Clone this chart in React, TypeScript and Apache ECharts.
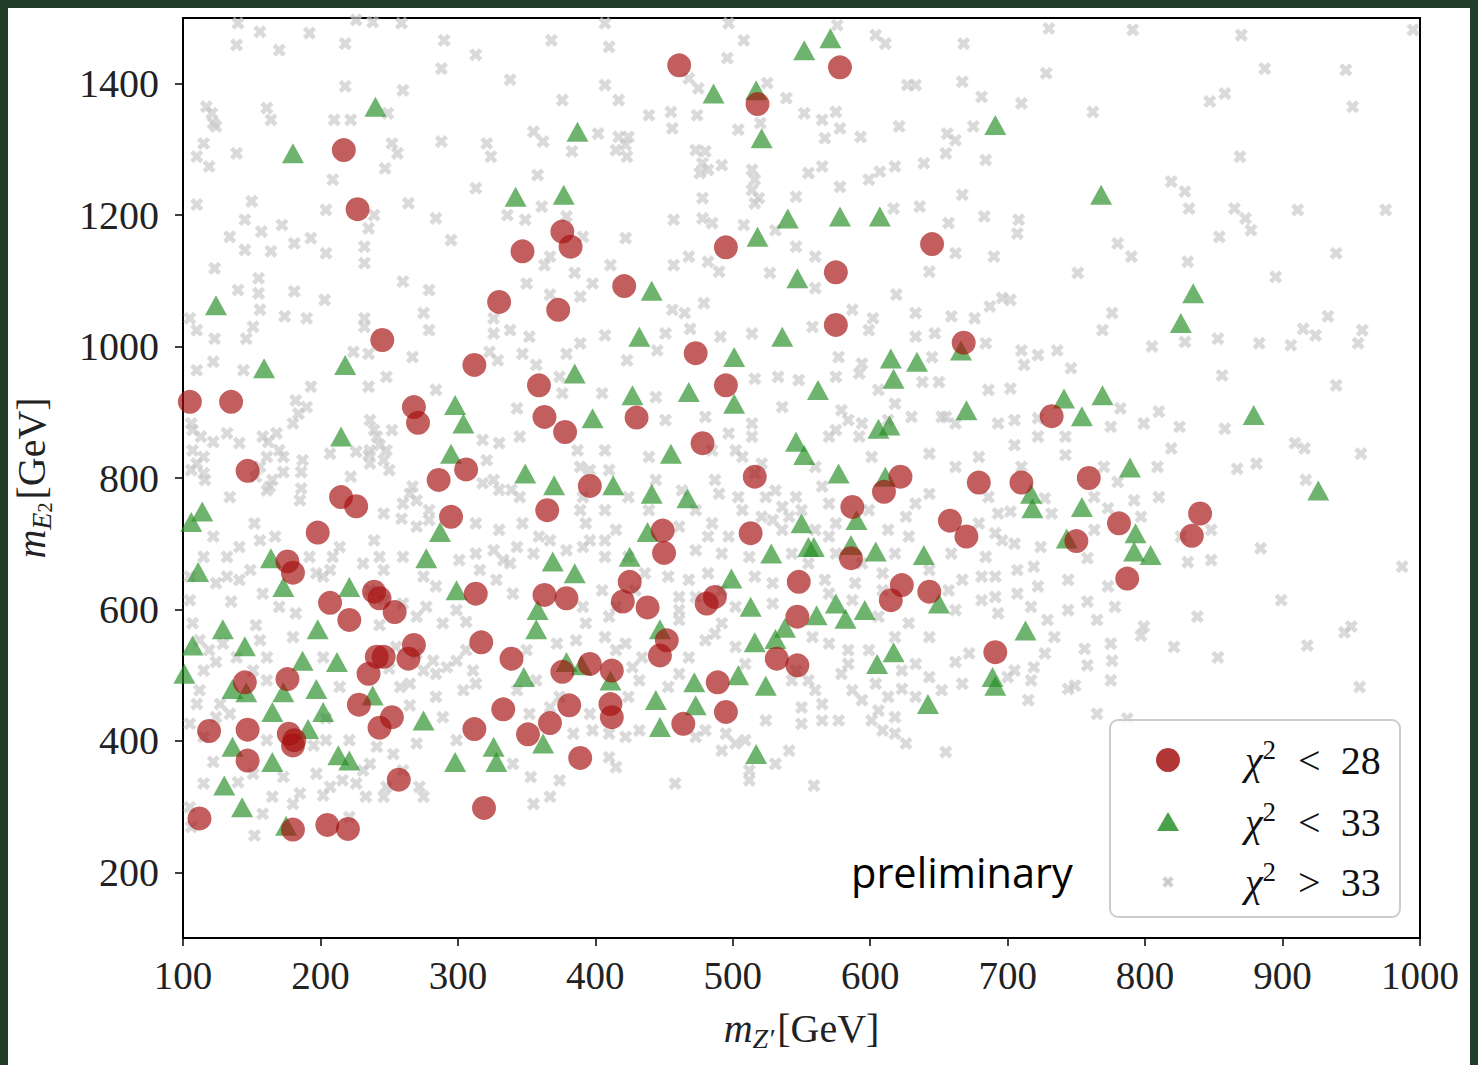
import React, { useEffect, useRef } from "react";
import * as echarts from "echarts";

const xTicks = [100, 200, 300, 400, 500, 600, 700, 800, 900, 1000];
const yTicks = [200, 400, 600, 800, 1000, 1200, 1400];
const legendThresholds = ["28", "33", "33"];
const legendOps = ["<", "<", ">"];

// chi^2 < 28 (red circles)
const redPoints: number[][] = [
  [217, 1299], [227, 1209], [376, 1175], [382, 1152], [347, 1145], [330, 1068], [373, 1056],
  [461, 1428], [578, 1425], [518, 1369], [495, 1151], [645, 1156], [575, 1113], [421, 1092], [575, 1033],
  [245, 1010], [312, 972], [359, 941], [363, 893], [378, 870], [105, 916], [135, 916], [268, 908],
  [271, 884], [147, 811], [306, 813], [286, 797], [215, 771], [226, 757], [365, 751], [295, 741],
  [198, 717], [176, 673], [180, 656], [207, 610], [239, 627], [243, 617], [254, 596], [221, 584],
  [313, 624], [363, 622], [379, 617], [396, 788],
  [473, 990], [668, 1006], [495, 941], [430, 892], [478, 853], [516, 802], [622, 802], [610, 779],
  [679, 793], [587, 756], [449, 720], [450, 686], [513, 716], [658, 735], [670, 711], [586, 678],
  [425, 642], [420, 612], [438, 603], [548, 642], [487, 619], [481, 609], [623, 637], [615, 614],
  [643, 627], [547, 589],
  [732, 894], [759, 800], [710, 793], [840, 746], [834, 712], [781, 731], [750, 704], [787, 647],
  [145, 489], [176, 494], [241, 528], [246, 528], [268, 546], [264, 525], [235, 502], [317, 550],
  [339, 525], [376, 505], [396, 517], [228, 455], [252, 436], [243, 420], [333, 448], [381, 454],
  [367, 427], [351, 410], [119, 415], [147, 417], [147, 370], [177, 411], [181, 401], [180, 393],
  [312, 418], [389, 374], [257, 341], [319, 298], [112, 282], [180, 265], [205, 272], [220, 266],
  [447, 530], [452, 553], [412, 507], [411, 456], [412, 436], [489, 489], [532, 525], [547, 515],
  [464, 426], [495, 444], [691, 535],
];

// chi^2 < 33 (green triangles)
const greenPoints: number[][] = [
  [240, 1365], [180, 1294], [124, 1063], [387, 1327], [342, 1228], [377, 1231],
  [552, 1451], [571, 1469], [486, 1385], [517, 1390], [521, 1317], [691, 1337], [540, 1195],
  [578, 1198], [607, 1198], [518, 1167], [547, 1104], [441, 1085],
  [768, 1231], [835, 1081], [826, 1036],
  [159, 967], [218, 972], [298, 911], [304, 883], [215, 863], [295, 837], [349, 807], [370, 789],
  [385, 959], [398, 891], [114, 749], [106, 733], [287, 718], [277, 678], [164, 678], [111, 657],
  [173, 634], [221, 634], [299, 629], [369, 673], [385, 655], [358, 599], [129, 570], [198, 570],
  [357, 570],
  [432, 1015], [536, 1015], [501, 984], [615, 982], [634, 977], [617, 951], [666, 994], [427, 926],
  [468, 931], [501, 913], [562, 934], [670, 903], [606, 875], [614, 880], [546, 855], [552, 835],
  [455, 837], [577, 807], [413, 789], [441, 776], [467, 769], [611, 802], [550, 731], [590, 736],
  [438, 718], [555, 695], [559, 695], [528, 685], [425, 680], [604, 688], [639, 683], [586, 698],
  [499, 647], [513, 604], [575, 609], [582, 586], [596, 599], [561, 591], [650, 609], [447, 570],
  [538, 572],
  [741, 921], [769, 926], [754, 894], [879, 896], [789, 816], [926, 781], [717, 776], [718, 754],
  [754, 756], [743, 708], [793, 716], [792, 688], [804, 683], [713, 568],
  [107, 545], [145, 544], [101, 502], [187, 522], [212, 520], [197, 479], [136, 479], [146, 474],
  [173, 474], [165, 444], [202, 444], [238, 469], [275, 431], [191, 418], [348, 497], [379, 520],
  [390, 515], [136, 391], [165, 368], [213, 378], [221, 370], [298, 368], [326, 391], [328, 368],
  [362, 396], [130, 332], [143, 299], [175, 271],
  [516, 550], [531, 555], [472, 489], [504, 500], [524, 484], [444, 462], [473, 454], [447, 421],
  [517, 380], [605, 517], [617, 535], [642, 456], [689, 497], [691, 484], [411, 492],
];

// chi^2 > 33 (grey crosses)
const greyPoints: number[][] = [
  [140, 1492], [156, 1479], [139, 1459], [192, 1477], [170, 1451], [218, 1461], [226, 1497], [238, 1494],
  [259, 1492], [290, 1466], [313, 1444], [288, 1423], [368, 1466], [338, 1406], [376, 1375], [218, 1396],
  [260, 1390], [121, 1355], [122, 1340], [161, 1363], [164, 1345], [210, 1345], [222, 1345], [249, 1355],
  [115, 1309], [139, 1294], [119, 1274], [209, 1254], [247, 1271], [252, 1309], [256, 1294], [288, 1312],
  [321, 1309], [324, 1289], [355, 1327], [362, 1312], [383, 1297], [358, 1261], [313, 1241], [110, 1216],
  [150, 1221], [145, 1193], [157, 1175], [172, 1185], [204, 1208], [239, 1200], [235, 1180], [264, 1218],
  [284, 1195], [295, 1162], [134, 1167], [145, 1147], [164, 1145], [181, 1157], [193, 1165], [204, 1142],
  [232, 1152], [232, 1127], [361, 1213], [349, 1193], [336, 1200], [367, 1137], [363, 1124], [385, 1112],
  [389, 1076], [123, 1119], [155, 1104], [140, 1086], [155, 1081], [181, 1084], [203, 1071], [260, 1099],
  [279, 1086], [275, 1051], [350, 1096], [367, 1079], [156, 1056], [174, 1046], [190, 1043], [232, 1043],
  [326, 1043], [105, 1043],
  [407, 1492], [410, 1456], [497, 1492], [508, 1466], [496, 1439], [576, 1489], [604, 1474], [611, 1461],
  [668, 1461], [407, 1398], [417, 1375], [468, 1408], [475, 1393], [525, 1401], [539, 1378], [439, 1352],
  [455, 1357], [474, 1352], [456, 1332], [504, 1330], [520, 1340], [552, 1355], [565, 1345], [575, 1357],
  [578, 1332], [567, 1317], [593, 1319], [621, 1335], [627, 1398], [633, 1398], [667, 1403], [681, 1380],
  [402, 1324], [417, 1319], [422, 1307], [423, 1289], [480, 1297], [478, 1279], [492, 1276], [476, 1264],
  [514, 1269], [516, 1254], [519, 1226], [555, 1264], [565, 1274], [578, 1243], [546, 1228], [599, 1254],
  [607, 1266], [618, 1274], [639, 1279], [655, 1294], [656, 1324], [662, 1314], [675, 1335], [684, 1284],
  [667, 1231], [636, 1213], [657, 1188], [683, 1198], [617, 1210], [478, 1226], [457, 1193], [478, 1195],
  [485, 1188], [508, 1185], [531, 1177], [546, 1152], [560, 1137], [422, 1165], [411, 1124], [457, 1124],
  [468, 1137], [482, 1129], [490, 1114], [527, 1112], [560, 1089], [643, 1114], [662, 1142], [690, 1137],
  [619, 1079], [456, 1056], [465, 1051], [479, 1066], [587, 1056], [602, 1043], [633, 1051], [659, 1046],
  [676, 1043], [687, 1061], [696, 1074],
  [730, 1484], [791, 1482], [870, 1474], [995, 1482], [728, 1416], [710, 1370], [762, 1357], [887, 1423],
  [946, 1421], [847, 1373], [858, 1385], [951, 1365], [869, 1289], [819, 1251], [829, 1236], [832, 1210],
  [865, 1210], [873, 1195], [877, 1177], [854, 1167], [911, 1208], [975, 1208], [708, 1193], [707, 1172],
  [780, 1157], [790, 1137], [831, 1129], [751, 1112], [895, 1106], [939, 1142], [702, 1071], [776, 1051],
  [933, 1046],
  [110, 1025], [123, 1012], [146, 1012], [151, 1030], [232, 1030], [279, 1025], [326, 1020], [338, 1025],
  [352, 1015], [389, 1005], [110, 964], [122, 977], [144, 964], [224, 992], [235, 989], [267, 984],
  [323, 992], [329, 979], [347, 989], [357, 972], [379, 989], [374, 954], [182, 918], [184, 898],
  [193, 939], [235, 939], [248, 954], [284, 934], [343, 906], [376, 929], [107, 873], [122, 855],
  [132, 868], [141, 853], [162, 855], [170, 842], [161, 832], [187, 827], [186, 809], [110, 822],
  [115, 807], [207, 837], [226, 840], [235, 835], [239, 873], [243, 850], [246, 827], [252, 873],
  [318, 858], [330, 853], [321, 827], [345, 863], [387, 842], [389, 817], [153, 802], [165, 797],
  [161, 781], [134, 771], [186, 784], [185, 766], [222, 802], [246, 746], [267, 787], [265, 776],
  [318, 792], [330, 782], [339, 782], [389, 751], [152, 731], [122, 711], [141, 695], [156, 705],
  [167, 711], [132, 680], [259, 738], [270, 726], [279, 736], [313, 731], [330, 721], [347, 731],
  [359, 711], [239, 705], [243, 680], [214, 695], [209, 680], [207, 660], [192, 680], [197, 655],
  [260, 680], [231, 670], [246, 660], [301, 675], [313, 685], [316, 660], [333, 675], [343, 695],
  [355, 685], [367, 705], [391, 695], [393, 731], [105, 650], [132, 650], [141, 645], [135, 612],
  [105, 614], [158, 624], [275, 650], [284, 635], [277, 604], [328, 645], [340, 624], [260, 609],
  [170, 604], [182, 594], [391, 604], [393, 579], [306, 581], [289, 579], [243, 576], [153, 576],
  [107, 579],
  [407, 1017], [451, 1020], [469, 1027], [491, 1015], [514, 1020], [558, 1030], [599, 1025], [633, 1015],
  [647, 1020], [684, 1005], [423, 979], [445, 994], [577, 984], [594, 974], [645, 984], [405, 929],
  [444, 923], [516, 951], [533, 954], [548, 949], [575, 954], [592, 959], [638, 946], [650, 946],
  [686, 934], [451, 888], [480, 893], [497, 868], [514, 883], [514, 863], [536, 908], [570, 863],
  [584, 888], [592, 863], [630, 893], [655, 893], [693, 883], [407, 842], [439, 832], [485, 842],
  [502, 842], [521, 822], [560, 817], [601, 832], [643, 837], [662, 817], [679, 832], [410, 812],
  [424, 771], [407, 751], [487, 797], [490, 776], [504, 771], [524, 771], [536, 756], [546, 771],
  [565, 787], [570, 761], [599, 751], [626, 741], [633, 761], [643, 776], [686, 771], [693, 746],
  [461, 726], [485, 731], [482, 711], [497, 711], [529, 736], [536, 721], [570, 711], [575, 731],
  [613, 721], [628, 711], [679, 731], [691, 716], [407, 705], [407, 680], [473, 690], [492, 685],
  [512, 680], [543, 685], [575, 685], [618, 685], [659, 685], [684, 680], [436, 655], [453, 650],
  [468, 645], [482, 655], [516, 650], [529, 640], [567, 645], [589, 640], [609, 655], [667, 645],
  [691, 650], [405, 629], [461, 619], [502, 604], [529, 609], [570, 624], [587, 614], [606, 589],
  [662, 599], [681, 614], [693, 594], [410, 589], [461, 584], [492, 579], [628, 579],
  [769, 1025], [805, 1000], [829, 1007], [853, 1012], [883, 1005], [906, 1002], [915, 1027], [924, 1017],
  [958, 1025], [955, 1005], [710, 994], [722, 987], [736, 994], [712, 972], [746, 967], [856, 956],
  [939, 941], [702, 936], [705, 888], [722, 891], [782, 906], [810, 901], [775, 878], [799, 883],
  [825, 878], [858, 875], [722, 863], [742, 863], [705, 850], [742, 835], [819, 845], [909, 853],
  [916, 845], [957, 837], [710, 817], [770, 817], [809, 817], [867, 814], [881, 822], [780, 794],
  [727, 769], [763, 771], [792, 766], [810, 771], [917, 797], [702, 749], [732, 746], [773, 754],
  [797, 741], [848, 721], [705, 700], [724, 695], [763, 721], [758, 678], [826, 711], [831, 672],
  [848, 675], [884, 693], [987, 665], [707, 660], [719, 665], [744, 645], [722, 635], [707, 624],
  [758, 612], [773, 635], [778, 604], [744, 599], [717, 604], [729, 584], [765, 584], [838, 589],
  [899, 614], [950, 574], [799, 574],
  [112, 553], [129, 548], [156, 553], [180, 558], [161, 527], [124, 520], [115, 507], [112, 477],
  [127, 456], [151, 507], [161, 492], [202, 527], [214, 482], [250, 510], [265, 487], [282, 522],
  [275, 507], [292, 512], [306, 538], [311, 507], [304, 477], [284, 467], [289, 436], [265, 454],
  [350, 538], [372, 548], [386, 553], [374, 467], [343, 477], [352, 441], [105, 426], [124, 436],
  [161, 401], [195, 393], [204, 434], [241, 391], [253, 380], [236, 365], [270, 396], [299, 401],
  [340, 365], [384, 411], [396, 441], [122, 368], [115, 335], [140, 337], [151, 350], [197, 350],
  [207, 330], [216, 340], [226, 335], [233, 315], [248, 330], [272, 330], [275, 315], [185, 320],
  [180, 304], [158, 289], [105, 299], [106, 269], [152, 256], [202, 317], [221, 284], [353, 345],
  [374, 340], [355, 304], [367, 315],
  [407, 558], [422, 548], [427, 512], [432, 492], [424, 467], [432, 416], [422, 406], [410, 411],
  [410, 375], [415, 360], [458, 335], [480, 553], [487, 563], [468, 527], [502, 543], [509, 517],
  [461, 502], [453, 482], [480, 416], [495, 411], [502, 396], [509, 401], [524, 431], [531, 365],
  [512, 355], [512, 340], [541, 385], [559, 332], [546, 507], [555, 492], [565, 456], [550, 451],
  [565, 431], [577, 431], [558, 558], [570, 548], [584, 538], [579, 502], [587, 477], [594, 462],
  [601, 431], [609, 416], [618, 411], [626, 396], [613, 467], [623, 507], [633, 517], [618, 558],
  [643, 558], [662, 520], [672, 533], [667, 487], [652, 477], [655, 383], [623, 479], [604, 487],
  [734, 558], [727, 533], [719, 512], [717, 492], [705, 507], [756, 540], [758, 515], [775, 548],
  [776, 522], [775, 492], [797, 560], [821, 543], [853, 527], [744, 479], [749, 484], [715, 462],
  [765, 441], [787, 434], [918, 545], [945, 565], [956, 482], [700, 497],
  // crosses inside the dense clumps
  [106, 883], [113, 863], [107, 842], [115, 832], [106, 812], [116, 797], [158, 863], [168, 868],
  [173, 832], [156, 817], [173, 809], [163, 787], [236, 888], [241, 863], [236, 842], [248, 842],
  [236, 822], [250, 812], [270, 766], [279, 751], [260, 761], [326, 797], [345, 771], [396, 812],
  [391, 771], [396, 705], [180, 883], [190, 908], [326, 690], [338, 670], [379, 690], [115, 680],
  [149, 660], [124, 640], [202, 650], [236, 629], [246, 614], [270, 589], [299, 599],
  [507, 832], [516, 807], [531, 781], [507, 751], [521, 741], [541, 741], [579, 903], [575, 873],
  [594, 883], [606, 934], [618, 913], [613, 888], [652, 893], [662, 883], [444, 797], [463, 781],
  [473, 751], [439, 751], [550, 751], [560, 721], [555, 670], [594, 670], [609, 629], [643, 660],
  [657, 629], [696, 705], [681, 650], [691, 619], [415, 721], [424, 680], [429, 629], [415, 604],
  [473, 619], [461, 599], [492, 629],
  [255, 543], [270, 533], [284, 502], [299, 522], [313, 487], [258, 482], [119, 538], [139, 527],
  [110, 456], [134, 441], [115, 406], [204, 401], [221, 401], [231, 355], [357, 492], [367, 451],
  [398, 416], [173, 345], [165, 315], [260, 355], [246, 315],
  [543, 492], [560, 477], [550, 426], [584, 517], [599, 538], [606, 446], [633, 467], [643, 497],
  [618, 436], [415, 538], [434, 527], [473, 406], [492, 385],
  [117, 1365], [124, 1335], [110, 1289], [415, 1299], [424, 1319], [473, 1299], [482, 1269],
  [514, 1238], [516, 1218], [379, 1198], [391, 1167], [398, 1096],
];

const RED = "rgba(165,15,15,0.84)";
const GREEN = "rgba(34,140,34,0.82)";
const GREY = "rgba(200,200,200,0.85)";
const CROSS = "path://M3,0H6V3H9V6H6V9H3V6H0V3H3Z";
const SERIF = "'Liberation Serif', 'Times New Roman', serif";

export default function App() {
  const ref = useRef<HTMLDivElement>(null);
  useEffect(() => {
    if (!ref.current) return;
    const chart = echarts.init(ref.current, null, { renderer: "svg" });

    const legendY = [752, 814, 874];
    const legendTexts = legendY.map((y, i) => ({
      type: "text",
      z: 101,
      x: 1237,
      y,
      style: {
        text: `{c|χ}{s|2}{o|${legendOps[i]}}{n|${legendThresholds[i]}}`,
        fill: "#111",
        verticalAlign: "middle",
        align: "left",
        rich: {
          c: { fontFamily: SERIF, fontStyle: "italic", fontSize: 40, lineHeight: 48, fill: "#111" },
          s: { fontFamily: SERIF, fontSize: 27, lineHeight: 30, verticalAlign: "top", fill: "#111" },
          o: { fontFamily: SERIF, fontSize: 40, lineHeight: 48, padding: [0, 20, 0, 22], fill: "#111" },
          n: { fontFamily: SERIF, fontSize: 40, lineHeight: 48, fill: "#111" },
        },
      },
    }));

    chart.setOption({
      animation: false,
      backgroundColor: "#ffffff",
      grid: {
        left: 175,
        top: 10,
        width: 1237,
        height: 920,
        show: true,
        borderColor: "#000",
        borderWidth: 2,
        backgroundColor: "transparent",
        containLabel: false,
        outerBoundsMode: "none",
      },
      xAxis: {
        type: "value",
        min: 100,
        max: 1000,
        interval: 100,
        name: "{m|m}{s|Z′}{g|[GeV]}",
        nameLocation: "middle",
        nameGap: 66,
        nameTextStyle: {
          rich: {
            m: { fontFamily: SERIF, fontStyle: "italic", fontSize: 40, lineHeight: 48, color: "#222" },
            s: { fontFamily: SERIF, fontStyle: "italic", fontSize: 28, lineHeight: 28, verticalAlign: "bottom", color: "#222" },
            g: { fontFamily: SERIF, fontSize: 40, lineHeight: 48, color: "#222", padding: [0, 0, 0, 3] },
          },
        },
        axisLine: { show: true, onZero: false, lineStyle: { color: "#000", width: 2 } },
        axisTick: { show: true, length: 8, inside: false, lineStyle: { color: "#000", width: 1.5 } },
        axisLabel: {
          show: true,
          margin: 18,
          fontFamily: SERIF,
          fontSize: 39,
          color: "#222",
          customValues: xTicks,
          formatter: (v: number) => String(v),
        },
        splitLine: { show: false },
      },
      yAxis: {
        type: "value",
        min: 100,
        max: 1500,
        splitNumber: 7,
        name: "{m|m}{s|E}{ss|2}{g|[GeV]}",
        nameLocation: "middle",
        nameGap: 128,
        nameTextStyle: {
          rich: {
            m: { fontFamily: SERIF, fontStyle: "italic", fontSize: 40, lineHeight: 48, color: "#222" },
            s: { fontFamily: SERIF, fontStyle: "italic", fontSize: 28, lineHeight: 32, verticalAlign: "bottom", color: "#222" },
            ss: { fontFamily: SERIF, fontSize: 20, lineHeight: 20, verticalAlign: "bottom", color: "#222" },
            g: { fontFamily: SERIF, fontSize: 40, lineHeight: 48, color: "#222", padding: [0, 0, 0, 3] },
          },
        },
        axisLine: { show: true, onZero: false, lineStyle: { color: "#000", width: 2 } },
        axisTick: { show: true, length: 8, inside: false, lineStyle: { color: "#000", width: 1.5 }, customValues: yTicks },
        axisLabel: {
          show: true,
          margin: 24,
          fontFamily: SERIF,
          fontSize: 40,
          color: "#222",
          customValues: yTicks,
          formatter: (v: number) => String(v),
        },
        splitLine: { show: false },
      },
      series: [
        {
          name: "χ² > 33",
          type: "scatter",
          data: greyPoints,
          symbol: CROSS,
          symbolSize: 14,
          symbolRotate: 45,
          itemStyle: { color: GREY },
          silent: true,
          z: 2,
        },
        {
          name: "χ² < 33",
          type: "scatter",
          data: greenPoints,
          symbol: "triangle",
          symbolSize: [22, 20],
          itemStyle: { color: GREEN },
          silent: true,
          z: 3,
        },
        {
          name: "χ² < 28",
          type: "scatter",
          data: redPoints,
          symbol: "circle",
          symbolSize: 24,
          itemStyle: { color: RED },
          silent: true,
          z: 4,
        },
      ],
      graphic: [
        {
          type: "text",
          z: 50,
          x: 843,
          y: 864,
          style: {
            text: "preliminary",
            fontFamily: "'Open Sans', 'Noto Sans', sans-serif",
            fontSize: 41.5,
            fill: "#000",
            verticalAlign: "middle",
            align: "left",
          },
        },
        {
          type: "rect",
          z: 100,
          shape: { x: 1102, y: 712, width: 290, height: 197, r: 8 },
          style: { fill: "rgba(255,255,255,0.8)", stroke: "#cccccc", lineWidth: 2 },
        },
        {
          type: "circle",
          z: 101,
          shape: { cx: 1160, cy: 752, r: 12 },
          style: { fill: RED },
        },
        {
          type: "polygon",
          z: 101,
          shape: { points: [[1160, 804], [1149, 823], [1171, 823]] },
          style: { fill: GREEN },
        },
        {
          type: "group",
          z: 101,
          x: 1160,
          y: 874,
          rotation: Math.PI / 4,
          children: [
            { type: "rect", z: 101, shape: { x: -6, y: -2, width: 12, height: 4 }, style: { fill: GREY } },
            { type: "rect", z: 101, shape: { x: -2, y: -6, width: 4, height: 12 }, style: { fill: GREY } },
          ],
        },
        ...legendTexts,
      ],
    });

    return () => chart.dispose();
  }, []);

  return (
    <div style={{ position: "fixed", left: 0, top: 0, width: 1478, height: 1065, background: "#1f3d27" }}>
      <div
        ref={ref}
        style={{ position: "absolute", left: 8, top: 8, width: 1462, height: 1057, background: "#ffffff" }}
      />
    </div>
  );
}
